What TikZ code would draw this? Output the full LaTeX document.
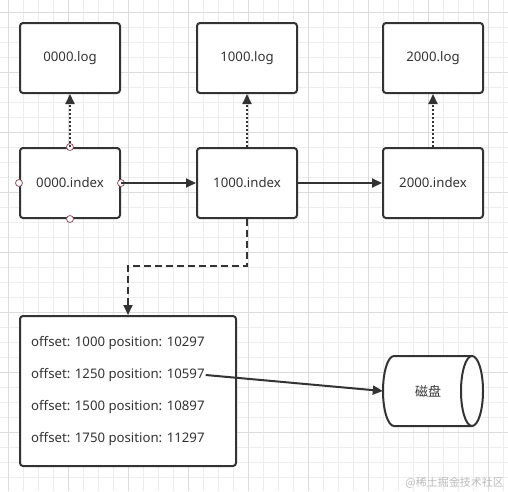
\documentclass[tikz,border=0pt]{standalone}
\usepackage{fontspec}
\setmainfont{Noto Sans}
\newfontfamily\cjk{Noto Sans CJK SC}
\usetikzlibrary{arrows.meta, shapes.geometric, positioning}
\definecolor{Ink}      {HTML}{333333}
\definecolor{GridMinor}{HTML}{EDEDED}
\definecolor{GridMajor}{HTML}{DCDCDC}
\definecolor{PortRed}  {HTML}{A05060}
\definecolor{Mark}     {HTML}{BBBBBB}

\begin{document}
\begin{tikzpicture}[x=1pt, y=-1pt, font=\fontsize{13.2}{15}\selectfont, text=Ink,
    box/.style={draw=Ink, line width=2pt, rounded corners=3pt, fill=white,
                minimum width=100pt, minimum height=70pt},
    port/.style={circle, draw=PortRed, fill=white, line width=0.8pt,
                 inner sep=0pt, minimum size=7pt},
    link/.style={draw=Ink, line width=2pt, -{Triangle[length=10pt, width=9pt]}},
    dots/.style={link, dash pattern=on 2pt off 2pt},
    dash line/.style={link, dash pattern=on 7pt off 4pt},
    entry/.style={anchor=west, inner sep=1pt}]
  \useasboundingbox (0,0) rectangle (508,491);
  % background grid
  \foreach \gx in {8,23,...,503}
    \draw[GridMinor, line width=0.6pt] (\gx,0) -- (\gx,491);
  \foreach \gy in {12,27,...,490}
    \draw[GridMinor, line width=0.6pt] (0,\gy) -- (508,\gy);
  \foreach \gx in {8,68,...,503}
    \draw[GridMajor, line width=0.6pt] (\gx,0) -- (\gx,491);
  \foreach \gy in {12,72,...,490}
    \draw[GridMajor, line width=0.6pt] (0,\gy) -- (508,\gy);
  % log files
  \node[box] (log0) at (70,58)  {0000.log};
  \node[box] (log1) at (247,58) {1000.log};
  \node[box] (log2) at (433,58) {2000.log};
  % index files
  \node[box] (idx0) at (70,183)  {0000.index};
  \node[box] (idx1) at (247,183) {1000.index};
  \node[box] (idx2) at (433,183) {2000.index};
  \foreach \side in {north, south, east, west}
    \node[port] at (idx0.\side) {};
  % index to log
  \draw[dots] (idx0.north) -- (log0.south);
  \draw[dots] (idx1.north) -- (log1.south);
  \draw[dots] (idx2.north) -- (log2.south);
  % index chain
  \draw[link] (idx0.east) -- (idx1.west);
  \draw[link] (idx1.east) -- (idx2.west);
  % index entries
  \node[box, minimum width=216pt, minimum height=150pt] (store) at (128,391) {};
  \node[entry] (e1) at (30,343) {offset: 1000 position: 10297};
  \node[entry] (e2) at (30,375) {offset: 1250 position: 10597};
  \node[entry] (e3) at (30,407) {offset: 1500 position: 10897};
  \node[entry] (e4) at (30,439) {offset: 1750 position: 11297};
  \coordinate (turn) at (128,266);
  \draw[dash line] (idx1.south) |- (turn) -- (turn |- store.north);
  % disk
  \draw[Ink, line width=2pt, fill=white] (472,356) -- (394,356)
    arc[start angle=270, end angle=90, x radius=11, y radius=35] -- (472,426);
  \draw[Ink, line width=2pt, fill=white] (472,391) ellipse[x radius=11, y radius=35];
  \node[minimum width=90pt, minimum height=70pt, inner sep=0pt,
        font=\cjk\fontsize{13}{15}\selectfont] (disk) at (428,391) {磁盘};
  \draw[link] (e2.east) -- (disk.west);
  % watermark
  \node[anchor=east, text=Mark, inner sep=0pt, font=\cjk\fontsize{11}{13}\selectfont]
        (mark) at (504,483) {@稀土掘金技术社区};
\end{tikzpicture}
\end{document}
